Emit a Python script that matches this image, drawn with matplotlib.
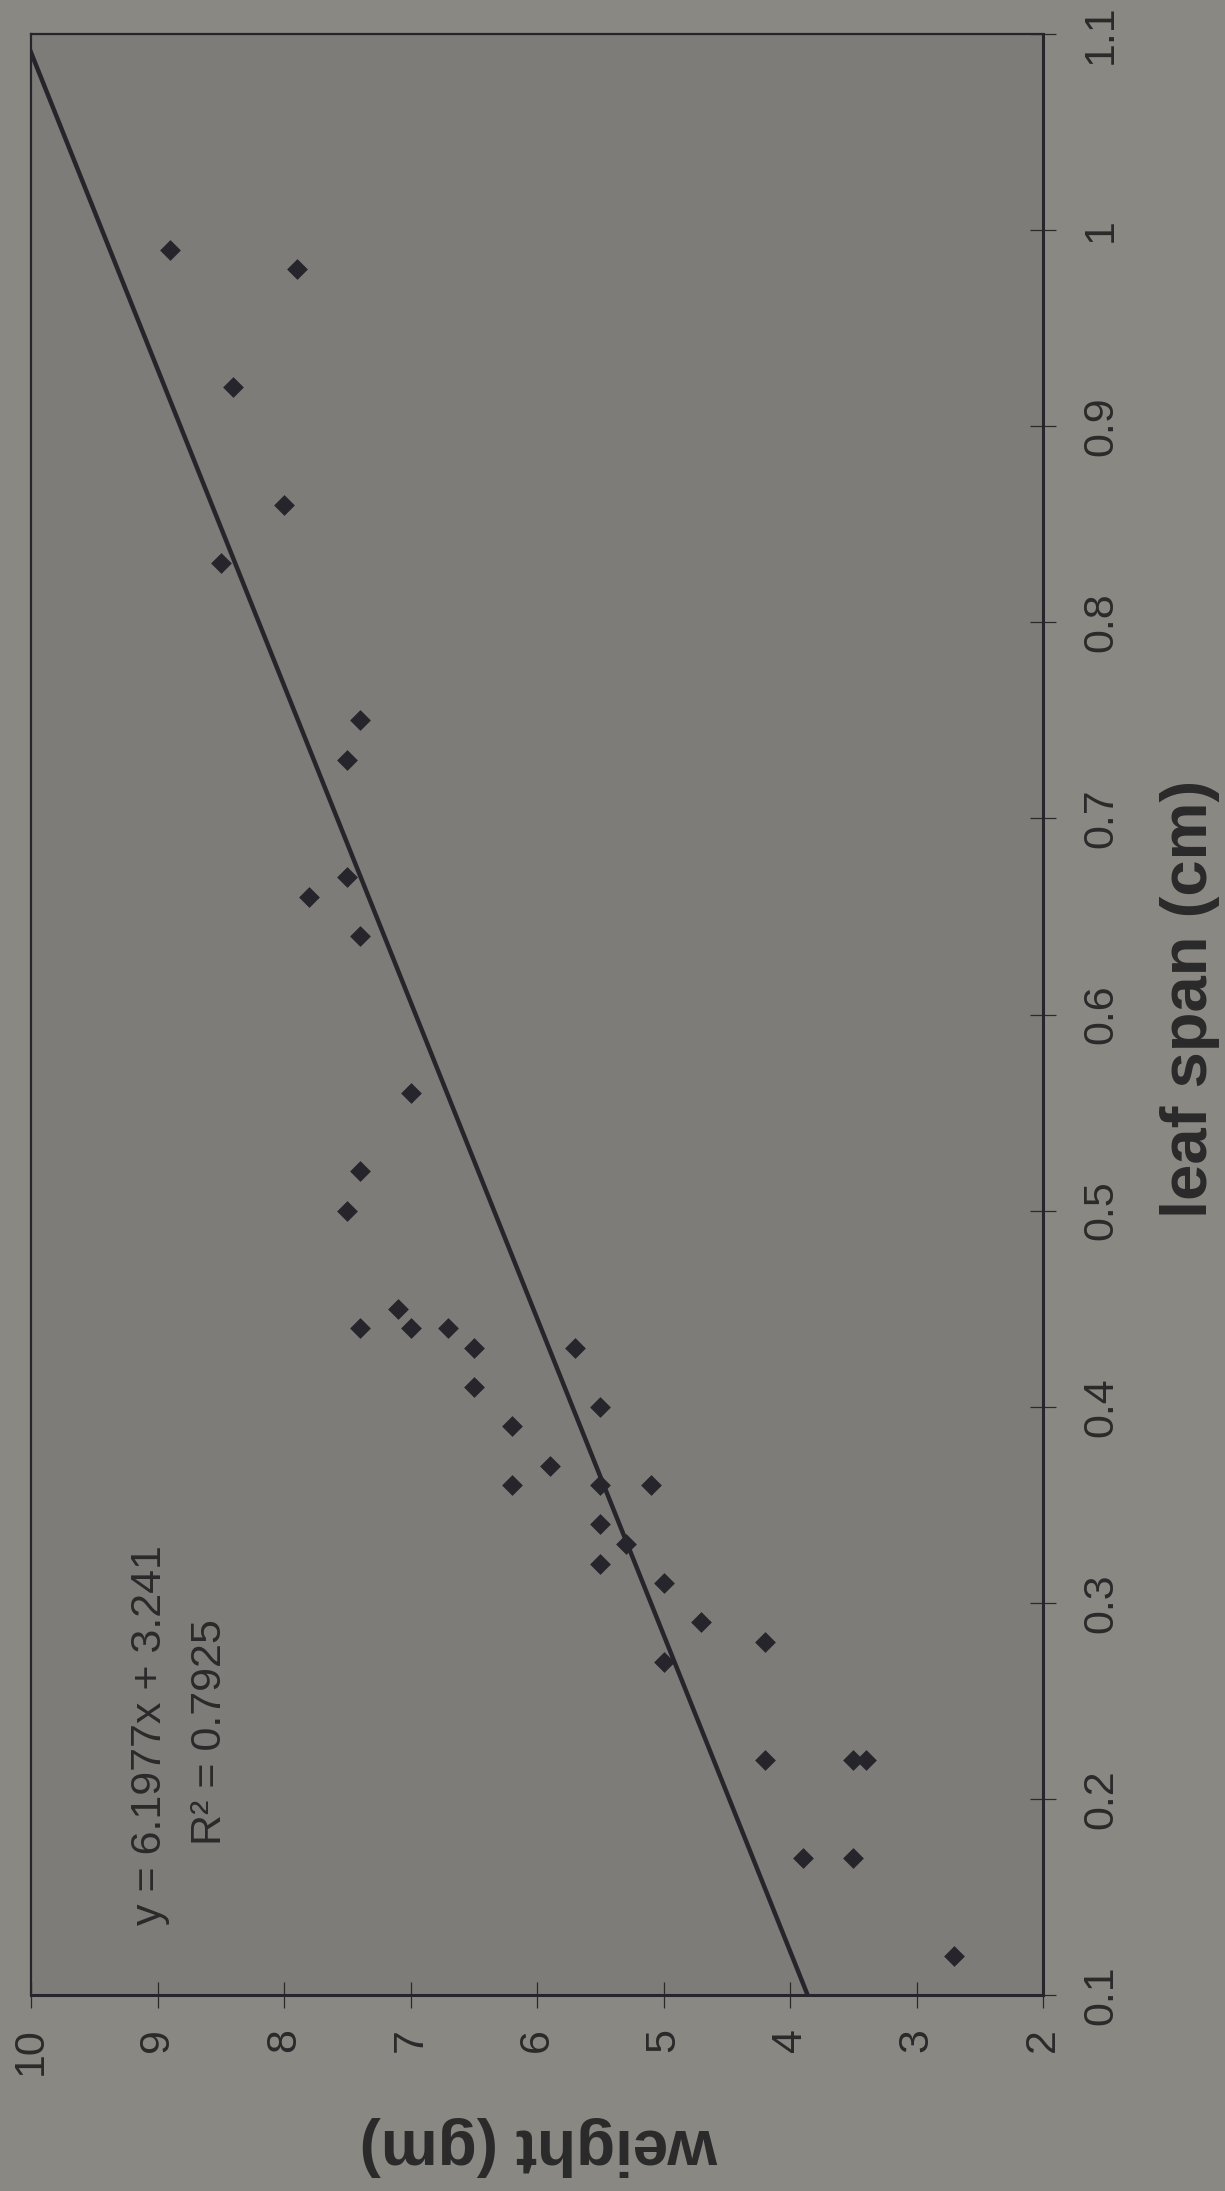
import matplotlib
matplotlib.use("Agg")
import matplotlib.pyplot as plt
import numpy as np

plt.rcParams['font.family'] = ['Liberation Sans', 'DejaVu Sans']

# ---- data (leaf span in cm, weight in gm) ----
leaf_span = [0.99, 0.98, 0.92, 0.86, 0.83, 0.75, 0.73, 0.67, 0.66, 0.64,
             0.56, 0.52, 0.50, 0.45, 0.44, 0.44, 0.44, 0.43, 0.43, 0.41,
             0.40, 0.39, 0.37, 0.36, 0.36, 0.36, 0.34, 0.33, 0.32, 0.31,
             0.29, 0.28, 0.27, 0.22, 0.22, 0.22, 0.17, 0.17, 0.12]
weight = [8.9, 7.9, 8.4, 8.0, 8.5, 7.4, 7.5, 7.5, 7.8, 7.4,
          7.0, 7.4, 7.5, 7.1, 7.4, 7.0, 6.7, 6.5, 5.7, 6.5,
          5.5, 6.2, 5.9, 6.2, 5.5, 5.1, 5.5, 5.3, 5.5, 5.0,
          4.7, 4.2, 5.0, 4.2, 3.5, 3.4, 3.9, 3.5, 2.7]

SLOPE = 6.1977
INTERCEPT = 3.241
R2 = 0.7925

weight_ticks = [10, 9, 8, 7, 6, 5, 4, 3, 2]
span_ticks = [0.1, 0.2, 0.3, 0.4, 0.5, 0.6, 0.7, 0.8, 0.9, 1.0, 1.1]
span_tick_labels = ["0.1", "0.2", "0.3", "0.4", "0.5", "0.6", "0.7",
                    "0.8", "0.9", "1", "1.1"]

# ---- figure (the whole chart is rotated 90 degrees counter-clockwise) ----
W, H = 1225, 2191
fig = plt.figure(figsize=(W / 100, H / 100), dpi=100, facecolor='#8a8883')
L, R, T, B = 31, 1043, 34, 1995
ax = fig.add_axes([L / W, 1 - B / H, (R - L) / W, (B - T) / H])
ax.set_facecolor('#7e7c78')

ink = '#26252b'
txt = '#2a2a2a'

span_line = np.array([span_ticks[0], span_ticks[-1]])
weight_line = SLOPE * span_line + INTERCEPT
ax.plot(weight_line, span_line, color=ink, lw=3.2, zorder=2, solid_capstyle='butt')
ax.scatter(weight, leaf_span, marker='D', s=112, color=ink, linewidths=0, zorder=3)

ax.set_xlim(10, 2)
ax.set_ylim(0.1, 1.1)
ax.set_xticks(weight_ticks)
ax.set_xticklabels([str(v) for v in weight_ticks])
ax.set_yticks(span_ticks)
ax.set_yticklabels(span_tick_labels)
ax.yaxis.tick_right()

ax.tick_params(axis='both', direction='inout', length=19, width=0.9,
               colors=txt, labelsize=31, labelrotation=90)
ax.tick_params(axis='x', pad=14)
ax.tick_params(axis='y', pad=18)
for lab in ax.get_yticklabels():
    lab.set_va('center')

for side in ['left', 'top']:
    ax.spines[side].set_linewidth(1.6)
    ax.spines[side].set_color(ink)
for side in ['bottom', 'right']:
    ax.spines[side].set_linewidth(2.2)
    ax.spines[side].set_color(ink)

ax.set_xlabel('weight (gm)', fontsize=46, fontweight='bold', color=txt,
              rotation=180, ha='center', va='center')
ax.xaxis.set_label_coords(0.502, -0.077)
ax.yaxis.set_label_position('right')
ax.set_ylabel('leaf span (cm)', fontsize=47, fontweight='bold', color=txt,
              rotation=90, ha='center', va='center')
ax.yaxis.set_label_coords(1.145, 0.508)

ax.text(0.1176, 0.1326, f'y = {SLOPE}x + {INTERCEPT}', transform=ax.transAxes,
        rotation=90, fontsize=31, color=txt, ha='center', va='center')
ax.text(0.1769, 0.134, f'R² = {R2}', transform=ax.transAxes,
        rotation=90, fontsize=31, color=txt, ha='center', va='center')

fig.savefig('out.png', dpi=100, facecolor=fig.get_facecolor())
